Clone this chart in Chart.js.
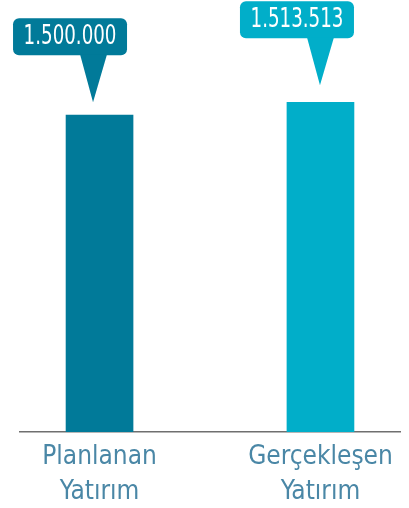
<!DOCTYPE html>
<html>
<head>
<meta charset="utf-8">
<script src="https://cdn.jsdelivr.net/npm/chart.js@4.4.0/dist/chart.umd.min.js"></script>
<style>
    html, body { margin: 0; padding: 0; background: #fff; }
    #wrap { width: 409px; height: 508px; position: relative; }
</style>
</head>
<body>
<div id="wrap"><canvas id="investChart"></canvas></div>
<script>
const categories = [['Planlanan', 'Yatırım'], ['Gerçekleşen', 'Yatırım']];
const positions = [0, 1];
const investValues = [1500000, 1513513];
const barColors = ['#017a99', '#01aec9'];

const LABEL_FONT = '"DejaVu Sans Condensed", "DejaVu Sans", sans-serif';

function formatTr(v) {
    return String(v).replace(/\B(?=(\d{3})+(?!\d))/g, '.');
}

// speech-bubble style value labels above each bar
const calloutPlugin = {
    id: 'callouts',
    afterDatasetsDraw(chart, args, opts) {
        const ctx = chart.ctx;
        const meta = chart.getDatasetMeta(0);
        meta.data.forEach((bar, i) => {
            const off = opts.tips[i];
            const tx = bar.x + off.dx;
            const ty = bar.y - off.gap;
            const bottom = ty - 47;
            const left = tx - 80, w = 114, h = 37;
            ctx.save();
            ctx.fillStyle = barColors[i];
            ctx.beginPath();
            ctx.roundRect(left, bottom - h, w, h, 6);
            ctx.fill();
            ctx.beginPath();
            ctx.moveTo(tx - 13, bottom - 1);
            ctx.lineTo(tx + 14, bottom - 1);
            ctx.lineTo(tx, ty);
            ctx.closePath();
            ctx.fill();
            // narrow digits: squeeze the condensed face a bit more
            ctx.translate(left + w / 2, bottom - h / 2 + 1);
            ctx.scale(0.78, 1);
            ctx.fillStyle = '#ffffff';
            ctx.font = '26px ' + LABEL_FONT;
            ctx.textAlign = 'center';
            ctx.textBaseline = 'middle';
            ctx.fillText(formatTr(investValues[i]), 0, 0);
            ctx.restore();
        });
    }
};

new Chart(document.getElementById('investChart'), {
    type: 'bar',
    data: {
        datasets: [{
            data: positions.map((x, i) => ({ x: x, y: investValues[i] })),
            backgroundColor: barColors,
            barThickness: 67
        }]
    },
    options: {
        responsive: true,
        maintainAspectRatio: false,
        animation: false,
        layout: { padding: { left: 20, right: 9, top: 0, bottom: 0 } },
        plugins: {
            legend: { display: false },
            tooltip: { enabled: false },
            callouts: { tips: [{ dx: -6.5, gap: 13 }, { dx: -0.5, gap: 17 }] }
        },
        scales: {
            x: {
                type: 'linear',
                min: -0.36,
                max: 1.36,
                offset: false,
                bounds: 'data',
                grid: { display: false, offset: false },
                border: { display: true, color: '#6f6f6f', width: 1.5 },
                afterBuildTicks(scale) {
                    scale.ticks = positions.map(v => ({ value: v }));
                },
                afterFit(scale) {
                    scale.height = 76;
                },
                ticks: {
                    autoSkip: false,
                    maxRotation: 0,
                    padding: 0,
                    color: '#4a87a6',
                    font: { family: LABEL_FONT, size: 26, lineHeight: 1.35 },
                    callback: (v) => categories[positions.indexOf(v)] || ''
                }
            },
            y: {
                display: false,
                min: 1170000,
                max: 1620000
            }
        }
    },
    plugins: [calloutPlugin]
});
</script>
</body>
</html>
